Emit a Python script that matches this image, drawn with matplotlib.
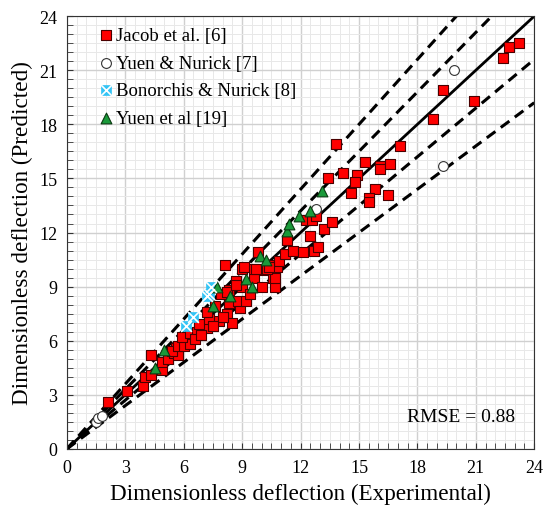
import numpy as np
import matplotlib
matplotlib.use("Agg")
import matplotlib.pyplot as plt
from matplotlib.ticker import MultipleLocator
from matplotlib.legend_handler import HandlerTuple

plt.rcParams['font.family'] = ['Liberation Serif', 'DejaVu Serif']

# Jacob et al. [6]
jacob_x = [2.1, 3.1, 3.9, 4.0, 4.3, 4.3, 4.9, 4.9, 5.2, 5.5, 5.6, 6.0, 5.7, 5.4, 5.7, 6.0,
           6.3, 5.9, 6.3, 6.7, 7.2, 6.8, 7.3, 7.8, 7.2, 8.2, 8.3, 8.9, 8.8, 7.9, 8.3, 9.2,
           8.7, 9.0, 8.2, 8.7, 9.6, 10.1, 10.6, 10.7, 10.7, 9.0, 9.6, 8.1, 9.8, 9.7, 10.3,
           10.5, 10.8, 10.9, 11.2, 11.6, 12.1, 12.7, 12.9, 12.5, 11.3, 13.2, 13.6, 12.3,
           12.6, 12.8, 13.8, 13.4, 14.2, 14.9, 14.8, 15.3, 16.1, 16.1, 16.6, 17.1, 18.8,
           19.3, 20.9, 14.6, 15.8, 16.5, 15.5, 15.5, 22.4, 22.7, 23.2, 9.1, 10.4, 7.5,
           6.6, 8.5, 9.4, 10.0, 7.6, 6.9, 8.0]
jacob_y = [2.6, 3.2, 3.5, 4.0, 4.1, 5.2, 4.4, 4.8, 5.0, 5.3, 5.6, 5.8, 5.2, 5.4, 5.7, 5.7,
           5.8, 6.2, 6.4, 6.5, 6.7, 6.9, 7.2, 7.1, 7.6, 7.5, 8.1, 7.8, 8.2, 8.6, 8.8, 8.2,
           9.3, 9.0, 8.7, 9.1, 9.5, 9.9, 9.5, 9.0, 9.5, 10.0, 10.0, 10.2, 10.9, 10.0, 10.0,
           10.2, 10.1, 10.4, 10.8, 11.0, 10.9, 11.0, 11.2, 11.8, 11.6, 12.2, 12.6, 12.7,
           12.7, 12.9, 16.9, 15.0, 15.3, 15.2, 14.8, 15.9, 15.7, 15.5, 15.8, 16.8, 18.3,
           19.9, 19.3, 14.2, 14.4, 14.1, 13.9, 13.7, 21.7, 22.3, 22.5, 10.1, 10.1, 6.8,
           6.1, 7.0, 8.6, 9.0, 7.9, 6.3, 7.3]

# Yuen & Nurick [7]
yn_x = [1.5, 1.6, 1.8, 12.8, 19.3, 19.9]
yn_y = [1.5, 1.7, 1.8, 13.3, 15.7, 21.0]

# Bonorchis & Nurick [8]
bn_x = [6.1, 6.5, 7.3, 7.4, 7.2]
bn_y = [6.8, 7.3, 8.6, 9.0, 8.5]

# Yuen et al [19]
ye_x = [4.5, 5.0, 7.5, 7.7, 8.4, 9.2, 9.5, 9.9, 10.2, 11.3, 11.4, 11.9, 12.5, 13.1]
ye_y = [4.5, 5.5, 7.9, 9.0, 8.5, 9.4, 9.0, 10.7, 10.5, 12.1, 12.5, 12.9, 13.2, 14.3]

ratios_dashed = [1.2, 1.1, 0.9, 0.8]
rmse = 0.88

fig = plt.figure(figsize=(5.44, 5.06), dpi=100)
ax = fig.add_axes([0.123, 0.111, 0.859, 0.855])

xl = np.array([0, 24])
for r in ratios_dashed:
    ax.plot(xl, r * xl, color='black', lw=2.2, ls=(0, (3.5, 2.2)), zorder=2)
ax.plot(xl, xl, color='black', lw=2.0, zorder=2)

ms = 60
h1 = ax.scatter(jacob_x, jacob_y, s=ms, marker='s', facecolor='#ff0000',
                edgecolor='#4a0000', linewidth=0.8, zorder=3)
h2 = ax.scatter(yn_x, yn_y, s=50, marker='o', facecolor='white',
                edgecolor='#333333', linewidth=0.8, zorder=3)
h3a = ax.scatter(bn_x, bn_y, s=ms, marker='s', facecolor='#33c4f5',
                 edgecolor='#33c4f5', linewidth=0.5, zorder=4)
h3b = ax.scatter(bn_x, bn_y, s=ms, marker='x', color='white', linewidth=1.2, zorder=5)
h4 = ax.scatter(ye_x, ye_y, s=60, marker='^', facecolor='#1a9a3a',
                edgecolor='#0a3a10', linewidth=0.8, zorder=4)

ax.set_xlim(0, 24)
ax.set_ylim(0, 24)
ax.xaxis.set_major_locator(MultipleLocator(3))
ax.yaxis.set_major_locator(MultipleLocator(3))
ax.xaxis.set_minor_locator(MultipleLocator(0.5))
ax.yaxis.set_minor_locator(MultipleLocator(0.5))
ax.grid(which='major', color='#d0d0d0', lw=1.0)
ax.grid(which='minor', color='#e8e8e8', lw=0.7)
ax.set_axisbelow(True)
ax.tick_params(which='both', direction='in', top=False, right=False, labelsize=13,
               color='#333333')
ax.tick_params(which='major', length=4, pad=7)
ax.tick_params(which='minor', length=4)
for sp in ax.spines.values():
    sp.set_color('#333333')

ax.set_xlabel('Dimensionless deflection (Experimental)', fontsize=16.7, labelpad=5)
ax.set_ylabel('Dimensionless deflection (Predicted)', fontsize=16.7, labelpad=4)

ax.text(23.0, 1.8, 'RMSE = %.2f' % rmse, fontsize=14, ha='right', va='center')

ax.legend([h1, h2, (h3a, h3b), h4],
          ['Jacob et al. [6]', 'Yuen & Nurick [7]', 'Bonorchis & Nurick [8]', 'Yuen et al [19]'],
          handler_map={tuple: HandlerTuple(ndivide=1, pad=0)},
          loc='upper left', bbox_to_anchor=(0.04, 1.005), frameon=False, fontsize=13.5,
          handlelength=0.8, handletextpad=0.1, labelspacing=0.55, borderaxespad=0.3)

fig.savefig('out.png', dpi=100)
